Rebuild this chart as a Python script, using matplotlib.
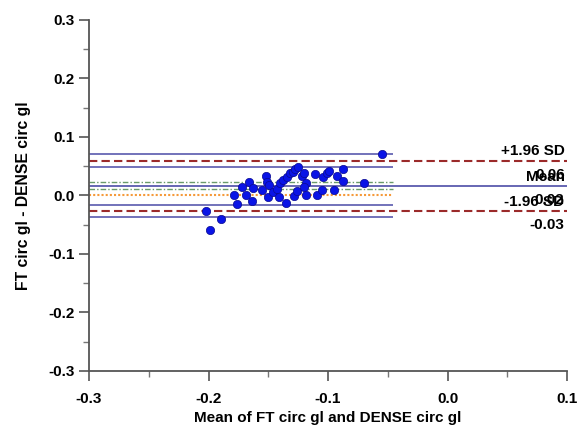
import matplotlib
matplotlib.use("Agg")
import matplotlib.pyplot as plt
from matplotlib.ticker import MultipleLocator

plt.rcParams['font.family'] = ['Liberation Sans', 'DejaVu Sans']
plt.rcParams['font.weight'] = 'bold'

mean_x = [-0.0546, -0.2023, -0.1987, -0.1895, -0.1764, -0.1787, -0.1722, -0.169,
          -0.1659, -0.164, -0.163, -0.1555, -0.1519, -0.151, -0.150, -0.149,
          -0.1458, -0.143, -0.1408, -0.1402, -0.138, -0.1351, -0.134, -0.1318,
          -0.129, -0.1276, -0.1248, -0.1285, -0.1257, -0.122, -0.120, -0.1184,
          -0.120, -0.1187, -0.1109, -0.109, -0.1053, -0.104, -0.101, -0.0989,
          -0.0947, -0.0927, -0.0872, -0.0872, -0.0696]
diff_y = [0.0704, -0.0265, -0.059, -0.040, -0.015, 0.001, 0.014, 0.001,
          0.0226, -0.009, 0.012, 0.0094, 0.034, 0.0236, -0.002, 0.018,
          0.0065, 0.0106, -0.002, 0.021, 0.0265, -0.012, 0.032, 0.038,
          0.0407, 0.0453, 0.049, -0.001, 0.008, 0.0333, 0.038, 0.022,
          0.015, 0.0003, 0.0367, 0.0003, 0.0094, 0.031, 0.038, 0.0424,
          0.0094, 0.0333, 0.0448, 0.0253, 0.021]

mean_diff = 0.0162
upper_loa = 0.0595
lower_loa = -0.0265
mean_ci = (0.0106, 0.0226)
upper_ci = (0.049, 0.0704)
lower_ci = (-0.0373, -0.0168)
zero_line = 0.0

x_ticks = [-0.3, -0.2, -0.1, 0.0, 0.1]
y_ticks = [-0.3, -0.2, -0.1, 0.0, 0.1, 0.2, 0.3]

fig = plt.figure(figsize=(5.81, 4.28), dpi=100)
ax = fig.add_axes([0.1532, 0.1332, 0.8227, 0.8201])
ax.set_xlim(-0.3, 0.1)
ax.set_ylim(-0.3, 0.3)

x_short = -0.046
blue = '#5a5aae'
red = '#9b2a2a'
green = '#6a9a6a'
orange = '#f59a3a'

# CI lines (short)
for v in (upper_ci[0], upper_ci[1], lower_ci[0], lower_ci[1]):
    ax.hlines(v, -0.3, x_short, colors=blue, lw=1.2, zorder=2)
for v in mean_ci:
    ax.hlines(v, -0.3, x_short, colors=green, lw=1.0, linestyles=(0, (4, 1.5, 1, 1.5)), zorder=2)
ax.hlines(zero_line, -0.3, x_short, colors=orange, lw=1.5, linestyles=(0, (1, 1)), zorder=2)
# full lines
ax.hlines(mean_diff, -0.3, 0.1, colors=blue, lw=1.3, zorder=2)
for v in (upper_loa, lower_loa):
    ax.hlines(v, -0.3, 0.1, colors=red, lw=1.5, linestyles=(0, (4, 2)), zorder=2)

ax.scatter(mean_x, diff_y, s=36, color='#0a14e6', edgecolors='#0a0a90', linewidths=0.5, zorder=3)

fs = 11
tx = 0.098
up = 0.016
dn = 0.024
ax.text(tx, upper_loa + up, '+1.96 SD', ha='right', va='center', fontsize=fs, fontweight='bold')
ax.text(tx, upper_loa - dn, f'{upper_loa:.2f}', ha='right', va='center', fontsize=fs, fontweight='bold')
ax.text(tx, mean_diff + up, 'Mean', ha='right', va='center', fontsize=fs, fontweight='bold')
ax.text(tx, mean_diff - dn, f'{mean_diff:.2f}', ha='right', va='center', fontsize=fs, fontweight='bold')
ax.text(tx, lower_loa + up, '-1.96 SD', ha='right', va='center', fontsize=fs, fontweight='bold')
ax.text(tx, lower_loa - dn, f'{lower_loa:.2f}', ha='right', va='center', fontsize=fs, fontweight='bold')

for s in ('top', 'right'):
    ax.spines[s].set_visible(False)
for s in ('left', 'bottom'):
    ax.spines[s].set_color('#555555')
    ax.spines[s].set_linewidth(1.3)

ax.set_xticks(x_ticks)
ax.set_yticks(y_ticks)
ax.set_xticklabels([f'{v:.1f}' for v in x_ticks])
ax.set_yticklabels([f'{v:.1f}' for v in y_ticks])
ax.xaxis.set_minor_locator(MultipleLocator(0.05))
ax.yaxis.set_minor_locator(MultipleLocator(0.05))
ax.tick_params(which='major', length=7, width=1.2, color='#555555', labelsize=11, direction='out')
ax.tick_params(axis='x', which='major', pad=8)
ax.tick_params(which='minor', length=4, width=1.0, color='#777777', direction='out')
for lbl in ax.get_xticklabels() + ax.get_yticklabels():
    lbl.set_fontweight('bold')

ax.set_xlabel('Mean of FT circ gl and DENSE circ gl', fontsize=11, fontweight='bold', labelpad=4)
ax.set_ylabel('FT circ gl - DENSE circ gl', fontsize=11.3, fontweight='bold', labelpad=12)

fig.savefig('out.png', dpi=100)
